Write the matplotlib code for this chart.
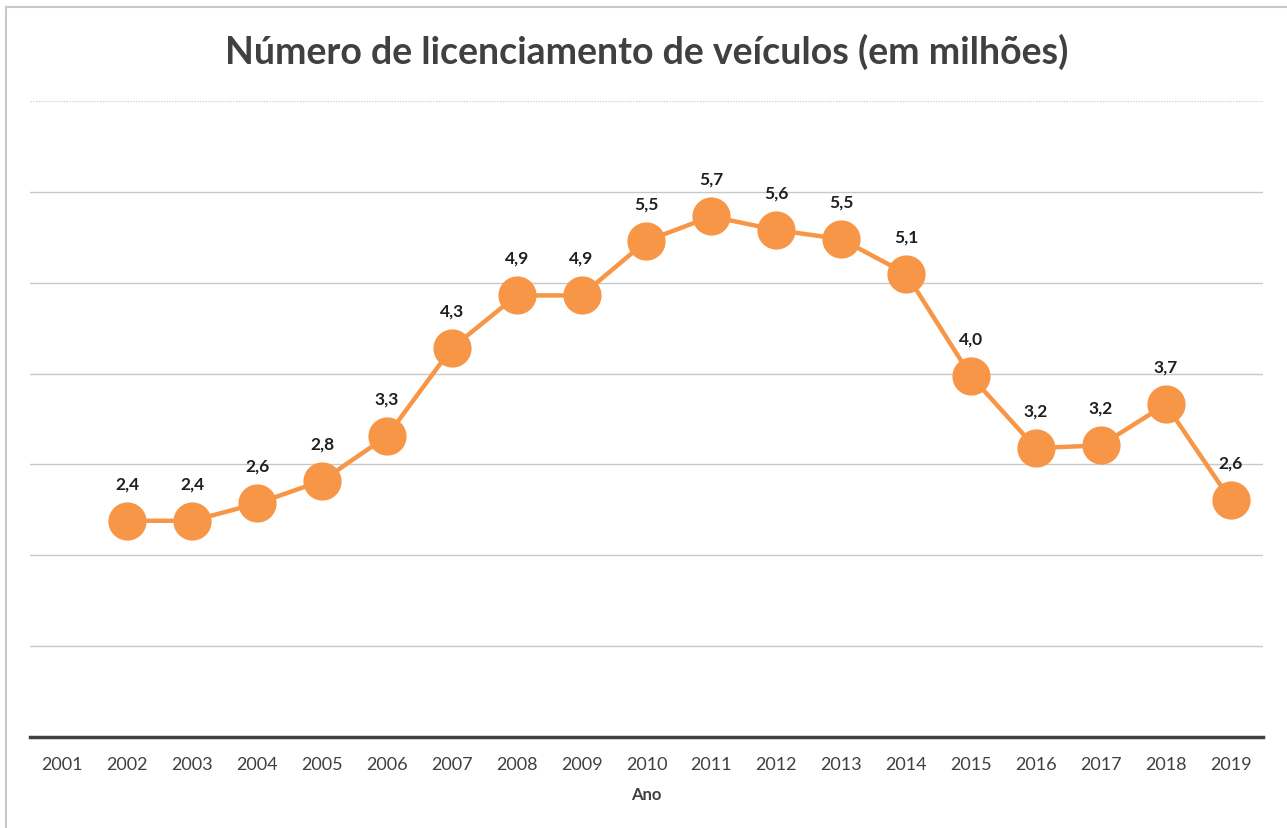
import matplotlib
matplotlib.use("Agg")
import matplotlib.pyplot as plt
from matplotlib.lines import Line2D

years = ["2001", "2002", "2003", "2004", "2005", "2006", "2007", "2008", "2009", "2010",
         "2011", "2012", "2013", "2014", "2015", "2016", "2017", "2018", "2019"]
# 2001 has no value
values = [None, 2.38, 2.38, 2.57, 2.82, 3.31, 4.28, 4.86, 4.86, 5.46,
          5.73, 5.58, 5.48, 5.10, 3.97, 3.18, 3.21, 3.66, 2.61]
title = "Número de licenciamento de veículos (em milhões)"
xlabel = "Ano"

plt.rcParams['font.family'] = ['Lato', 'DejaVu Sans']

W, H = 1287, 829
fig = plt.figure(figsize=(W / 100, H / 100), dpi=100)
fig.patch.set_facecolor("white")

# outer border (left and top visible)
fig.add_artist(Line2D([6 / W, 6 / W], [0, 1 - 8 / H], transform=fig.transFigure,
                      color="#c8c8c8", lw=1.5))
fig.add_artist(Line2D([6 / W, 1], [1 - 8 / H, 1 - 8 / H], transform=fig.transFigure,
                      color="#c8c8c8", lw=1.5))

left, right = 30 / W, 1263 / W
bottom, top = 1 - 738 / H, 1 - 102 / H
ax = fig.add_axes([left, bottom, right - left, top - bottom])

x = list(range(len(years)))
xs = [i for i, v in zip(x, values) if v is not None]
ys = [v for v in values if v is not None]

ax.set_xlim(-0.5, len(years) - 0.5)
ax.set_ylim(0, 7)
ax.set_yticks([1, 2, 3, 4, 5, 6, 7])
ax.yaxis.grid(True, color="#c8c8c8", lw=1.0)
ax.get_ygridlines()[-1].set_linestyle((0, (1, 1)))
ax.get_ygridlines()[-1].set_color("#d4d4d4")
ax.set_axisbelow(True)
for s in ["left", "right", "top"]:
    ax.spines[s].set_visible(False)
ax.spines["bottom"].set_color("#404040")
ax.spines["bottom"].set_linewidth(2.5)
ax.tick_params(axis="y", left=False, labelleft=False)
ax.tick_params(axis="x", length=0, pad=14, labelsize=13, labelcolor="#404040")
ax.set_xticks(x)
ax.set_xticklabels(years)

ax.plot(xs, ys, color="#F79646", lw=3.2, marker="o", markersize=26.5,
        markerfacecolor="#F79646", markeredgecolor="#F79646", zorder=3)

for xi, yi in zip(xs, ys):
    lab = f"{yi:.1f}".replace(".", ",")
    ax.annotate(lab, (xi, yi), xytext=(0, 27), textcoords="offset points",
                ha="center", va="center", fontsize=12.5, fontweight="bold",
                color="#1f1f1f")

ax.set_xlabel(xlabel, fontsize=12, fontweight="bold", color="#404040", labelpad=10)

fig.text(647 / W, 1 - 52 / H, title, ha="center", va="center", fontsize=27,
         fontweight="bold", color="#404040")

fig.savefig("out.png", dpi=100)
